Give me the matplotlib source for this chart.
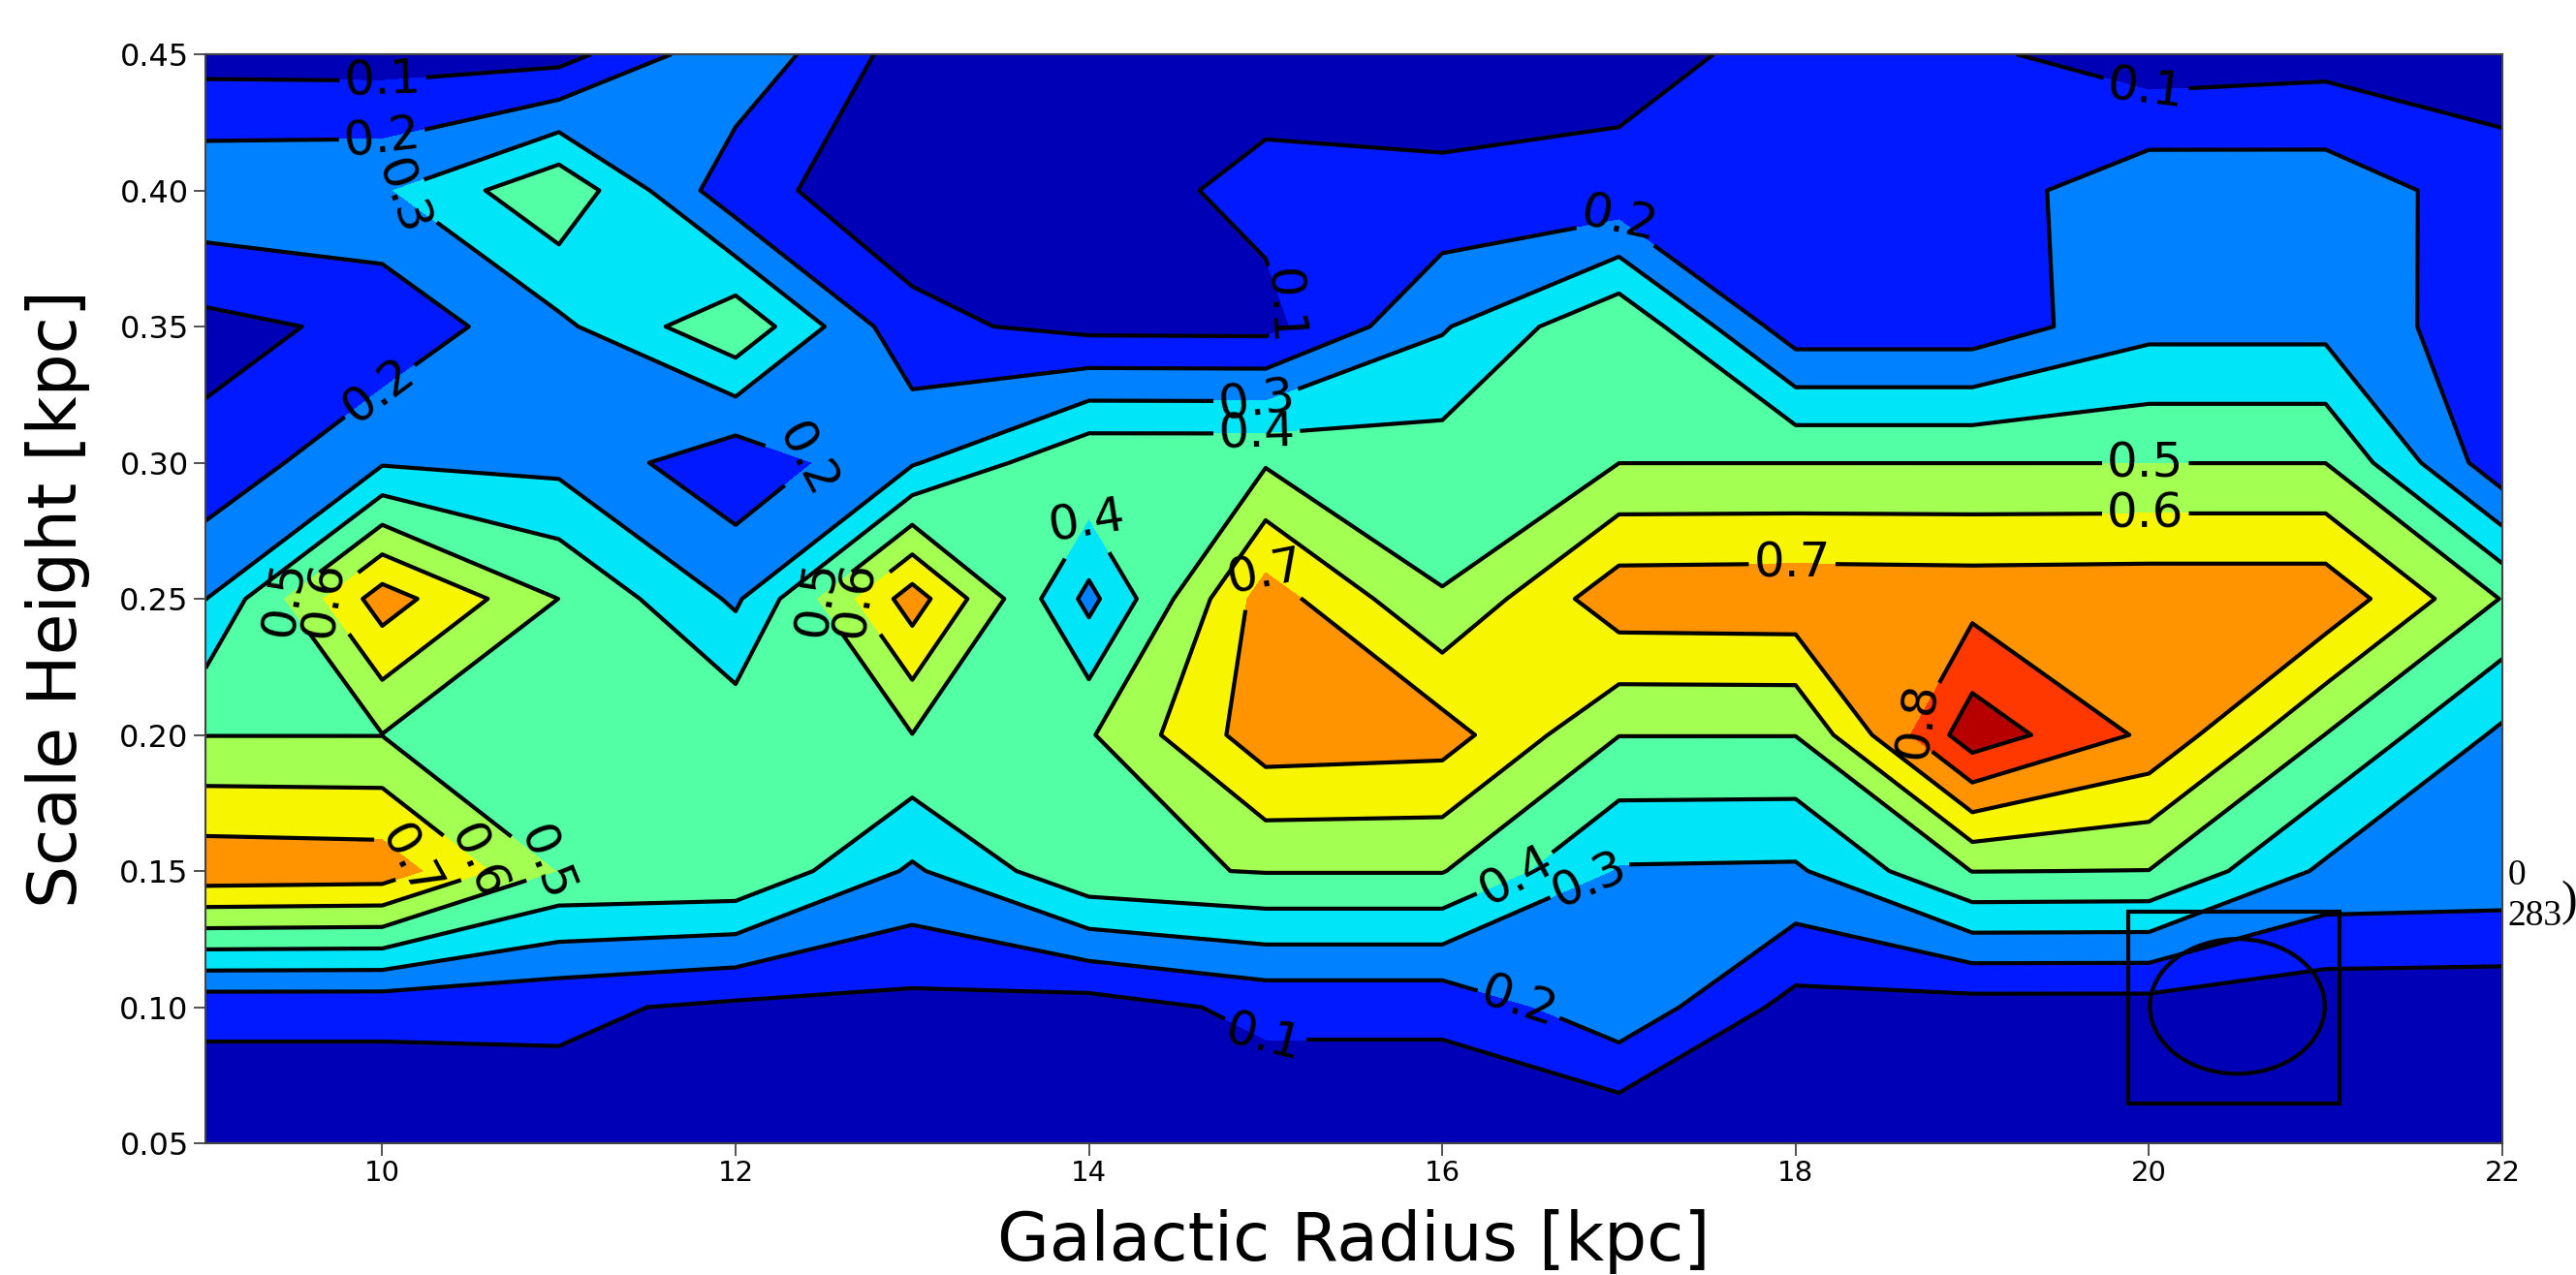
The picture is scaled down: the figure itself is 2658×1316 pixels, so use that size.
import numpy as np
import matplotlib
matplotlib.use("Agg")
import matplotlib.pyplot as plt
from matplotlib.patches import Rectangle, Ellipse

# grid of the map
radius = [9, 10, 11, 12, 13, 14, 15, 16, 17, 18, 19, 20, 21, 22]
height = [0.05, 0.10, 0.15, 0.20, 0.25, 0.30, 0.35, 0.40, 0.45]

# one list per scale height row, values along radius 9..22
z_005 = [0.02, 0.02, 0.05, 0.03, 0.03, 0.03, 0.02, 0.02, 0.00, 0.02, 0.02, 0.02, 0.02, 0.02]
z_010 = [0.127, 0.127, 0.12, 0.08, 0.07, 0.056, 0.125, 0.125, 0.27, 0.065, 0.056, 0.056, 0.03, 0.027]
z_015 = [0.77, 0.76, 0.495, 0.49, 0.285, 0.48, 0.505, 0.505, 0.29, 0.285, 0.502, 0.498, 0.28, 0.27]
z_020 = [0.498, 0.498, 0.45, 0.47, 0.498, 0.49, 0.76, 0.745, 0.502, 0.502, 0.96, 0.78, 0.498, 0.28]
z_025 = [0.298, 0.75, 0.499, 0.283, 0.75, 0.27, 0.75, 0.505, 0.765, 0.77, 0.765, 0.77, 0.77, 0.495]
z_030 = [0.127, 0.29, 0.273, 0.13, 0.29, 0.49, 0.49, 0.45, 0.499, 0.499, 0.499, 0.499, 0.499, 0.13]
z_035 = [0.07, 0.125, 0.278, 0.48, 0.123, 0.073, 0.07, 0.29, 0.49, 0.14, 0.14, 0.27, 0.27, 0.135]
z_040 = [0.28, 0.288, 0.48, 0.13, 0.045, 0.05, 0.13, 0.123, 0.12, 0.15, 0.15, 0.268, 0.26, 0.145]
z_045 = [0.06, 0.055, 0.06, 0.28, 0.05, 0.05, 0.05, 0.04, 0.077, 0.12, 0.12, 0.04, 0.06, 0.047]

levels = [0.0, 0.1, 0.2, 0.3, 0.4, 0.5, 0.6, 0.7, 0.8, 0.9, 1.0]

# where the contour labels sit
label_pos = [(10.0, 0.443), (10.0, 0.419), (10.07, 0.394), (10.0, 0.325),
             (12.4, 0.301), (9.45, 0.25), (9.62, 0.25), (12.45, 0.25), (12.62, 0.25),
             (14.0, 0.278), (14.95, 0.262), (15.0, 0.355), (14.95, 0.326),
             (14.95, 0.313), (17.0, 0.39), (19.98, 0.437), (19.98, 0.30),
             (19.98, 0.282), (17.98, 0.264), (18.7, 0.205), (10.2, 0.157),
             (10.55, 0.154), (10.95, 0.155), (16.4, 0.151), (16.8, 0.152),
             (16.45, 0.105), (15.0, 0.09)]

Z = np.array([z_005, z_010, z_015, z_020, z_025, z_030, z_035, z_040, z_045])
X, Y = np.meshgrid(radius, height)

fig = plt.figure(figsize=(26.58, 13.16), dpi=100)
ax = fig.add_axes([0.0798, 0.1033, 0.8916, 0.8541])

ax.contourf(X, Y, Z, levels=levels, cmap="jet")
cs = ax.contour(X, Y, Z, levels=levels, colors="k", linewidths=3.0)
ax.clabel(cs, fmt="%1.1f", fontsize=36, colors="k", inline=True, manual=label_pos)

# box and ellipse drawn over the lower right corner
ax.add_patch(Rectangle((19.88, 0.0645), 1.2, 0.0705, fill=False, ec="k", lw=3.0))
ax.add_patch(Ellipse((20.5, 0.1003), 0.99, 0.0495, fill=False, ec="k", lw=3.0))

ax.set_xlim(9, 22)
ax.set_ylim(0.05, 0.45)
ax.set_xticks([10, 12, 14, 16, 18, 20, 22])
ax.set_yticks([0.05, 0.10, 0.15, 0.20, 0.25, 0.30, 0.35, 0.40, 0.45])
ax.set_yticklabels(["0.05", "0.10", "0.15", "0.20", "0.25", "0.30", "0.35", "0.40", "0.45"])
ax.tick_params(length=9, width=1.2, color="#333333")
ax.tick_params(axis="x", labelsize=21)
ax.tick_params(axis="y", labelsize=23)
for sp in ax.spines.values():
    sp.set_color("#444444")
    sp.set_linewidth(1.5)

ax.set_xlabel("Galactic Radius [kpc]", fontsize=50, labelpad=16)
ax.set_ylabel("Scale Height [kpc]", fontsize=50, labelpad=22)

# stray serif text at the right edge
fig.text(0.9735, 0.300, "0", family="Liberation Serif", fontsize=27, va="bottom")
fig.text(0.9735, 0.268, "283", family="Liberation Serif", fontsize=27, va="bottom")
fig.text(0.9942, 0.274, ")", family="Liberation Serif", fontsize=36, va="bottom")

fig.savefig("out.png", dpi=100)
